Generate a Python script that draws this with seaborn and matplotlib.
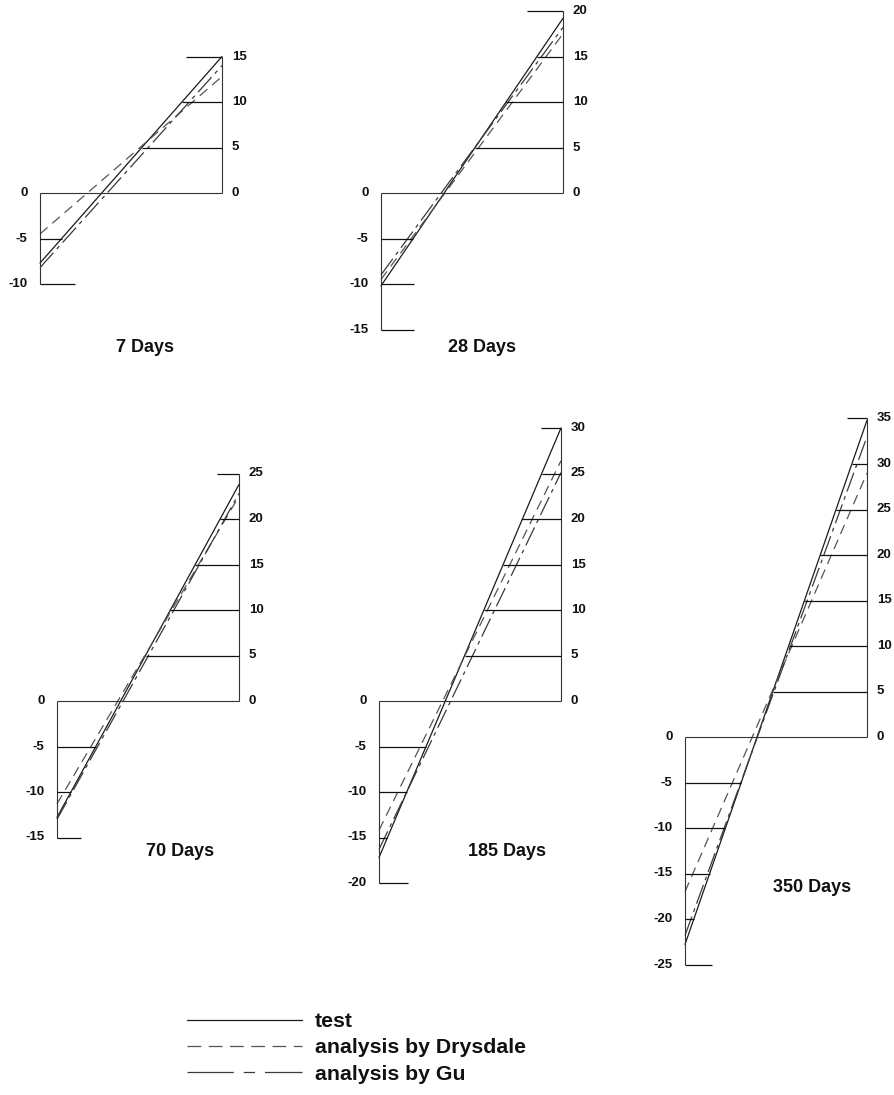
import numpy as np
import pandas as pd
import matplotlib
matplotlib.use("Agg")
import matplotlib.pyplot as plt
from matplotlib.lines import Line2D
import seaborn as sns

# ---------------- data ----------------
panel_titles = ["7 Days", "28 Days", "70 Days", "185 Days", "350 Days"]
axis_min = [-10, -15, -15, -20, -25]
axis_max = [15, 20, 25, 30, 35]
tick_step = 5

series_names = ["test", "analysis by Drysdale", "analysis by Gu"]
test_left = [-7.7, -10.2, -12.8, -17.2, -22.8]
test_right = [15.0, 19.2, 23.8, 30.0, 34.8]
drysdale_left = [-4.5, -9.5, -11.3, -14.2, -17.0]
drysdale_right = [12.8, 17.5, 22.5, 26.4, 29.0]
gu_left = [-8.2, -9.0, -13.0, -16.3, -21.8]
gu_right = [14.0, 18.2, 22.8, 25.1, 33.0]

# ---------------- style / layout ----------------
sns.set_theme(style="white")
plt.rcParams["font.family"] = ["Liberation Sans", "DejaVu Sans"]

W, H = 894, 1095
fig = plt.figure(figsize=(W / 100, H / 100), dpi=100)
fig.patch.set_facecolor("white")

PX_UNIT = 9.1
PANEL_W = 182
layout = [(40, 193), (381, 193), (57, 701), (379, 701), (685, 737)]  # left-axis x, zero y (px)
top_stub = [0.20, 0.20, 0.12, 0.11, 0.11]
bot_stub = [0.19, 0.18, 0.13, 0.16, 0.15]
title_pos = [(145, 347), (482, 347), (180, 852), (507, 852), (812, 887)]

palette = {"test": "#1a1a1a", "analysis by Drysdale": "#555555", "analysis by Gu": "#3a3a3a"}
dashes = {"test": "", "analysis by Drysdale": (8, 5), "analysis by Gu": (16, 4, 3, 4)}
frame_kw = dict(color="#333333", lw=0.8, clip_on=False)
tick_kw = dict(color="#111111", lw=0.9, clip_on=False)
num_kw = dict(fontsize=9.5, fontweight="bold", color="#111111", va="center",
              textcoords="offset points", annotation_clip=False)

for i in range(len(panel_titles)):
    lx, zy = layout[i]
    ymin, ymax = axis_min[i], axis_max[i]
    bottom_px = zy + (-ymin) * PX_UNIT
    height_px = (ymax - ymin) * PX_UNIT
    ax = fig.add_axes([lx / W, 1 - bottom_px / H, PANEL_W / W, height_px / H])
    ax.set_xlim(0, 1)
    ax.set_ylim(ymin, ymax)
    ax.axis("off")

    df = pd.DataFrame({
        "pos": [0.0, 1.0] * 3,
        "strain": [test_left[i], test_right[i], drysdale_left[i], drysdale_right[i],
                   gu_left[i], gu_right[i]],
        "series": np.repeat(series_names, 2),
    })
    sns.lineplot(data=df, x="pos", y="strain", hue="series", style="series",
                 palette=palette, dashes=dashes, linewidth=0.9, legend=False,
                 sort=False, ax=ax, clip_on=False)

    # frame: left axis (negative part), right axis (positive part), zero line
    ax.vlines(0, ymin, 0, **frame_kw)
    ax.vlines(1, 0, ymax, **frame_kw)
    ax.hlines(0, 0, 1, **frame_kw)
    ax.annotate("0", xy=(0, 0), xytext=(-9, 0), ha="right", **num_kw)
    ax.annotate("0", xy=(1, 0), xytext=(7, 0), ha="left", **num_kw)

    span = test_right[i] - test_left[i]
    for v in range(ymin, ymax + 1, tick_step):
        if v == 0:
            continue
        t = (v - test_left[i]) / span
        if v > 0:
            x0 = t if t < 0.97 else 1 - top_stub[i]
            ax.hlines(v, x0, 1, **tick_kw)
            ax.annotate(str(v), xy=(1, v), xytext=(7, 0), ha="left", **num_kw)
        else:
            x1 = t if t > 0.03 else bot_stub[i]
            ax.hlines(v, 0, x1, **tick_kw)
            ax.annotate(str(v), xy=(0, v), xytext=(-9, 0), ha="right", **num_kw)

    tx, ty = title_pos[i]
    fig.text(tx / W, 1 - ty / H, panel_titles[i], ha="center", va="center",
             fontsize=13, fontweight="bold", color="#111111")

# ---------------- legend ----------------
legend_dashes = {"test": None, "analysis by Drysdale": (11, 6), "analysis by Gu": (37, 8, 9, 8)}
handles = []
for s in series_names:
    if legend_dashes[s] is None:
        handles.append(Line2D([], [], color=palette[s], lw=0.9, linestyle="-"))
    else:
        handles.append(Line2D([], [], color=palette[s], lw=0.9, dashes=legend_dashes[s]))
fs = 15.3
em = fs * 100 / 72
leg = fig.legend(handles, series_names, loc="upper left",
                 bbox_to_anchor=(187 / W, 1 - 1012 / H), frameon=False, fontsize=fs,
                 handlelength=115 / em, handletextpad=13 / em, labelspacing=0.35,
                 borderpad=0, borderaxespad=0)
for txt in leg.get_texts():
    txt.set_fontweight("bold")
    txt.set_color("#111111")

fig.savefig("out.png", dpi=100, facecolor="white")
